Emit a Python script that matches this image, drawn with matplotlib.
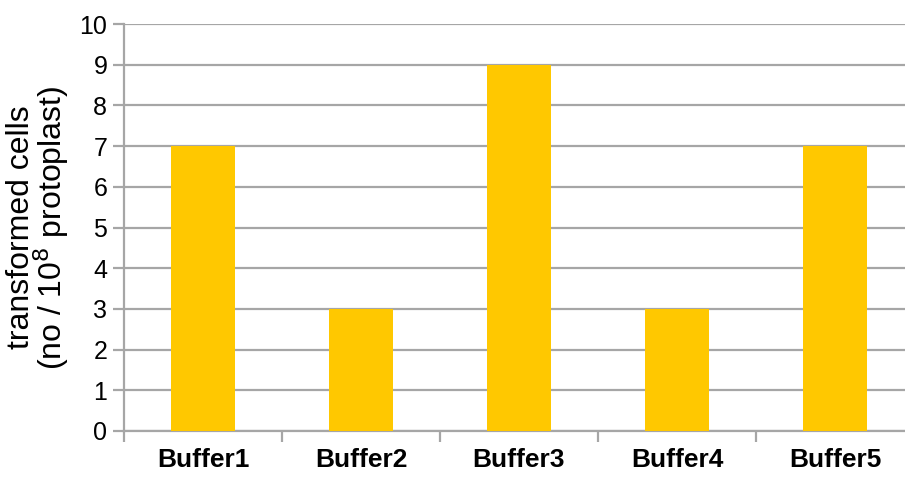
import matplotlib
matplotlib.use('Agg')
import matplotlib.pyplot as plt

plt.rcParams['font.family'] = ['Liberation Sans', 'DejaVu Sans']

# transformed cells per buffer
buffers = ['Buffer1', 'Buffer2', 'Buffer3', 'Buffer4', 'Buffer5']
cells = [7, 3, 9, 3, 7]

grid_col = '#A6A6A6'
bar_col = '#FFC800'

fig = plt.figure(figsize=(9.05, 4.78), dpi=100)
ax = fig.add_axes([124/905, 1 - 431/478, 790/905, (431 - 24)/478])

x = list(range(len(buffers)))
ax.bar(x, cells, width=0.4, color=bar_col, zorder=3)

ax.set_ylim(0, 10)
ax.set_xlim(-0.5, len(buffers) - 0.5)
ax.set_yticks(range(0, 11))
ax.yaxis.grid(True, color=grid_col, linewidth=1.6, zorder=0)

# category labels centred, tick marks on the boundaries
ax.set_xticks([i - 0.5 for i in range(len(buffers) + 1)])
ax.set_xticklabels([])
ax.set_xticks(x, minor=True)
ax.set_xticklabels(buffers, minor=True, fontsize=19, fontweight='bold')
ax.tick_params(axis='x', which='minor', length=0, pad=12)
ax.tick_params(axis='x', which='major', length=8, width=1.6, color=grid_col)
ax.tick_params(axis='y', length=8, width=1.6, color=grid_col, labelsize=18, pad=4)

for side in ['top', 'right']:
    ax.spines[side].set_visible(False)
for side in ['left', 'bottom']:
    ax.spines[side].set_color(grid_col)
    ax.spines[side].set_linewidth(1.6)

ax.set_ylabel('transformed cells\n(no / 10$^{8}$ protoplast)', fontsize=23,
              linespacing=0.85, labelpad=6)

fig.savefig('out.png', dpi=100)
